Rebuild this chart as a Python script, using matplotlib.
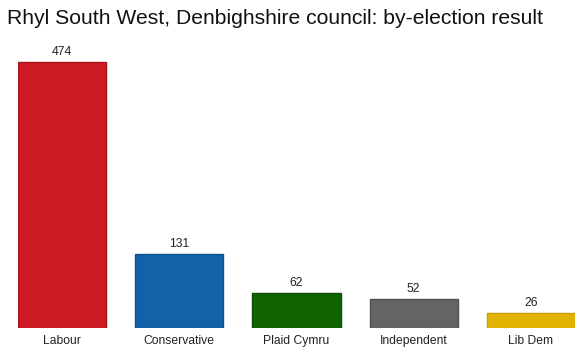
import matplotlib.pyplot as plt

parties = ["Labour", "Conservative", "Plaid Cymru", "Independent", "Lib Dem"]
votes = [474, 131, 62, 52, 26]
colors = ["#cc1b22", "#1262a8", "#0f6400", "#646464", "#e1b400"]
edges = ["#a8141a", "#0d5090", "#0b5000", "#505050", "#c89e00"]

plt.rcParams['font.family'] = ['Liberation Sans', 'DejaVu Sans']

fig = plt.figure(figsize=(5.8, 3.51), dpi=100)
ax = fig.add_axes([18 / 580, 23 / 351, 557 / 580, 288 / 351])

x = range(len(parties))
bars = ax.bar(x, votes, width=0.752, color=colors, edgecolor=edges, linewidth=1)

for b, v in zip(bars, votes):
    ax.annotate(str(v), (b.get_x() + b.get_width() / 2, v), xytext=(0, 3),
                textcoords="offset points", ha="center", va="bottom",
                fontsize=8.7, color="#222222")

ax.set_xlim(-0.376, len(parties) - 1 + 0.376)
ax.set_ylim(0, 474 * 288 / 266)
ax.set_xticks(list(x))
ax.set_xticklabels(parties, fontsize=8.7, color="#222222")
ax.tick_params(axis="x", length=0, pad=5)
ax.set_yticks([])
for s in ax.spines.values():
    s.set_visible(False)

fig.text(7 / 580, 1 - 19 / 351, "Rhyl South West, Denbighshire council: by-election result",
         fontsize=15.2, va="center", ha="left", color="#111111")

fig.savefig("out.png", dpi=100)
